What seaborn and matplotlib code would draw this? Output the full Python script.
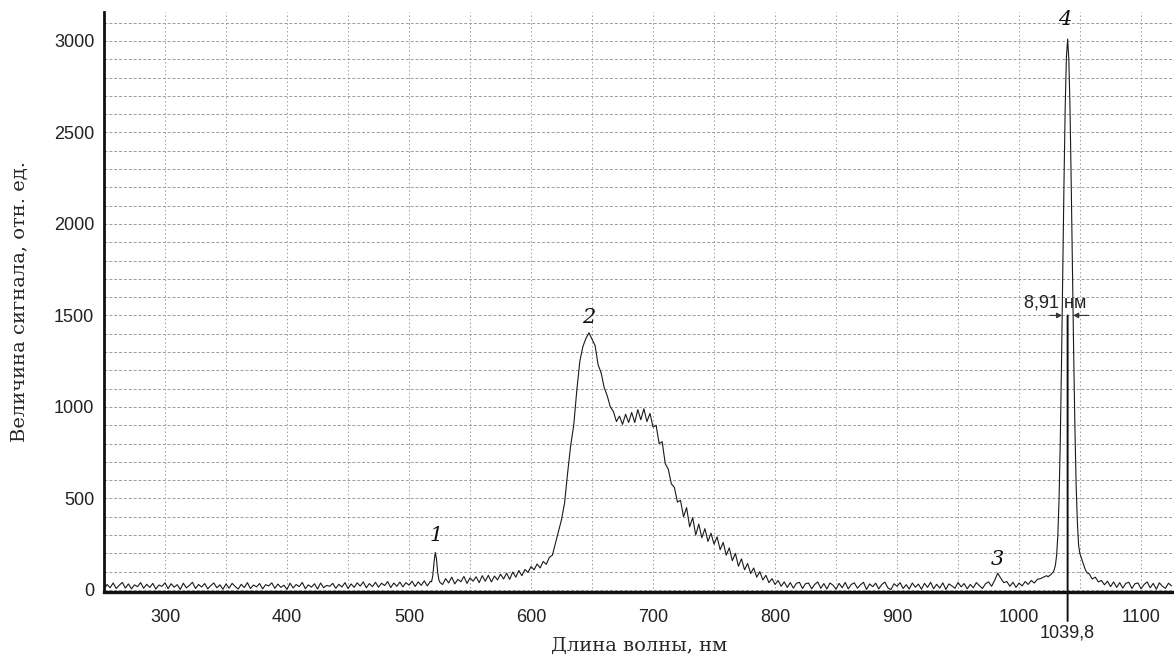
import numpy as np
import pandas as pd
import matplotlib
matplotlib.use("Agg")
import matplotlib.pyplot as plt
import matplotlib.transforms as mtransforms
import seaborn as sns

# Spectrum (signal in relative units)
# 250 - 517.5 nm, step 2.5 nm: flat background
wl_seg1 = np.arange(250, 517.6, 2.5)
sig_seg1 = [4, 30, 12, 38, 8, 26, 41, 10, 33, 6, 28, 18, 40, 9, 31, 14, 36, 5, 27, 20, 39,
            7, 34, 15, 29, 3, 37, 11, 25, 42, 8, 30, 16, 35, 6, 24, 38, 12, 28, 4, 33,
            10, 36, 19, 5, 31, 13, 40, 8, 27, 17, 35, 6, 29, 22, 39, 9, 32, 14, 26, 3,
            37, 11, 30, 18, 41, 7, 28, 15, 34, 5, 38, 12, 25, 20, 36, 9, 31, 16, 40, 8,
            33, 14, 39, 21, 44, 12, 35, 18, 42, 15, 37, 24, 46, 13, 38, 20, 43, 17, 40, 26,
            48, 19, 44, 25, 50, 22, 47]

# narrow line 1
wl_peak1 = [518.5, 519.5, 520.5, 521.5, 522.5, 523.5, 524.5, 525.5]
sig_peak1 = [45, 80, 150, 205, 170, 95, 55, 40]

# 527.5 - 1022.5 nm, step 2.5 nm: broad band 2 and line 3
wl_seg2 = np.arange(527.5, 1022.6, 2.5)
sig_seg2 = [30, 62, 38, 70, 33, 58, 45, 74, 36, 66, 48, 72, 40, 78,
            48, 80, 44, 76, 55, 86, 60, 92, 58, 98, 70, 106, 78, 112, 96, 128,
            110, 142, 120, 156, 140, 178, 190, 255, 320, 385, 475, 640, 790, 900, 1090, 1250,
            1330, 1375, 1405, 1370, 1335, 1230, 1185, 1105, 1060, 1000, 975, 920, 950, 905, 960, 915,
            970, 915, 985, 930, 990, 920, 965, 890, 900, 800, 810, 690, 660, 580, 560, 480,
            490, 400, 450, 345, 395, 300, 360, 285, 335, 265, 310, 250, 290, 220, 260, 190,
            230, 160, 200, 130, 170, 110, 145, 90, 120, 70, 100, 55, 80, 40, 62, 30,
            52, 20, 44, 14, 40, 10, 36, 42, 8, 34, 38, 6, 30, 44, 9, 35,
            5, 38, 26, 4, 36, 12, 41, 6, 30, 39, 10, 28, 42, 3, 33, 18,
            37, 6, 30, 43, 11, 2, 34, 20, 40, 8, 29, 5, 38, 15, 32, 4,
            36, 14, 42, 7, 31, 10, 39, 3, 33, 22, 9, 41, 17, 35, 6, 30,
            12, 40, 24, 8, 34, 44, 20, 52, 92, 64, 40, 46, 20, 42, 14, 38,
            22, 46, 30, 52, 38, 58, 62, 70, 78]

# laser line 4, step 1 nm around 1039.8 nm
wl_peak4 = np.arange(1023.8, 1055.9, 1.0)
sig_peak4 = [72, 78, 82, 90, 96, 110, 135, 190, 300, 500, 820, 1240, 1720, 2210, 2630, 2910,
             3010,
             2900, 2620, 2200, 1730, 1280, 880, 570, 370, 245, 200, 180, 160, 140, 120, 105, 93]

# 1057.5 - 1125 nm tail
wl_seg3 = np.arange(1057.5, 1125.1, 2.5)
sig_seg3 = [88, 60, 70, 44, 52, 28, 48, 18, 44, 14, 40, 10, 36, 42, 8, 34, 38, 6, 30, 44,
            12, 36, 4, 39, 20, 9, 37, 22]

peak_labels = ["1", "2", "3", "4"]
peak_label_wl = [522, 647.5, 982, 1037]
peak_label_sig = [300, 1490, 165, 3115]

line4_center = 1039.8
line4_fwhm = 8.91
half_level = 1500

spectrum = pd.DataFrame({
    "wl": np.concatenate([wl_seg1, wl_peak1, wl_seg2, wl_peak4, wl_seg3]),
    "sig": np.concatenate([sig_seg1, sig_peak1, sig_seg2, sig_peak4, sig_seg3]),
})

sns.set_style("white")
plt.rcParams["font.family"] = ["Liberation Sans", "DejaVu Sans"]

fig = plt.figure(figsize=(11.74, 6.56), dpi=100)
ax = fig.add_axes([0.0886, 0.0976, 0.9114, 0.8841])

sns.lineplot(data=spectrum, x="wl", y="sig", ax=ax, color="#1a1a1a", lw=0.8,
             estimator=None, sort=True)

ax.set_xlim(250, 1127)
ax.set_ylim(-11, 3158)
ax.set_xticks(np.arange(300, 1101, 100))
ax.set_xticks(np.arange(250, 1101, 50), minor=True)
ax.set_yticks(np.arange(0, 3001, 500))
ax.set_yticks(np.arange(0, 3101, 100), minor=True)

ax.xaxis.grid(True, which="both", color="#9c9c9c", lw=0.7, linestyle=(0, (1.5, 2.5)))
ax.yaxis.grid(True, which="both", color="#9c9c9c", lw=0.7, linestyle=(0, (3, 2)))
ax.set_axisbelow(True)

ax.tick_params(axis="x", which="both", direction="out", length=6, width=0.7,
               color="#9c9c9c", pad=6, labelsize=13, labelcolor="#222222")
ax.tick_params(axis="y", which="major", direction="out", length=3, width=0.7,
               color="#9c9c9c", pad=4, labelsize=13, labelcolor="#222222")
ax.tick_params(axis="y", which="minor", length=0)

for side in ["top", "right"]:
    ax.spines[side].set_visible(False)
ax.spines["left"].set_linewidth(2.0)
ax.spines["left"].set_color("#111111")
ax.spines["bottom"].set_linewidth(2.4)
ax.spines["bottom"].set_color("#111111")

ax.set_xlabel("Длина волны, нм", family=["DejaVu Serif"], fontsize=14, labelpad=8)
ax.set_ylabel("Величина сигнала, отн. ед.", family=["DejaVu Serif"], fontsize=14, labelpad=18)

# peak numbers
for lab, x, y in zip(peak_labels, peak_label_wl, peak_label_sig):
    ax.text(x, y, lab, family=["DejaVu Serif"], style="italic", fontsize=15,
            ha="center", va="center", color="#111111")

# FWHM marker on line 4
trans = mtransforms.blended_transform_factory(ax.transData, ax.transAxes)
ax.annotate("", xy=(line4_center, half_level), xycoords="data",
            xytext=(line4_center, -0.05), textcoords=trans,
            arrowprops=dict(arrowstyle="-", color="#111111", lw=1.4,
                            shrinkA=0, shrinkB=0))
ax.text(line4_center, -0.07, "1039,8", transform=trans, ha="center", va="center",
        fontsize=13, color="#222222")
left_edge = line4_center - line4_fwhm / 2
right_edge = line4_center + line4_fwhm / 2
ax.annotate("", xy=(left_edge, half_level), xytext=(left_edge - 10, half_level),
            arrowprops=dict(arrowstyle="-|>", color="#333333", lw=0.8,
                            mutation_scale=8, shrinkA=0, shrinkB=0))
ax.annotate("", xy=(right_edge, half_level), xytext=(right_edge + 13, half_level),
            arrowprops=dict(arrowstyle="-|>", color="#333333", lw=0.8,
                            mutation_scale=8, shrinkA=0, shrinkB=0))
ax.text(line4_center - 10, half_level + 20, "8,91 нм", ha="center", va="bottom",
        fontsize=13, color="#222222")

fig.savefig("out.png", dpi=100)
